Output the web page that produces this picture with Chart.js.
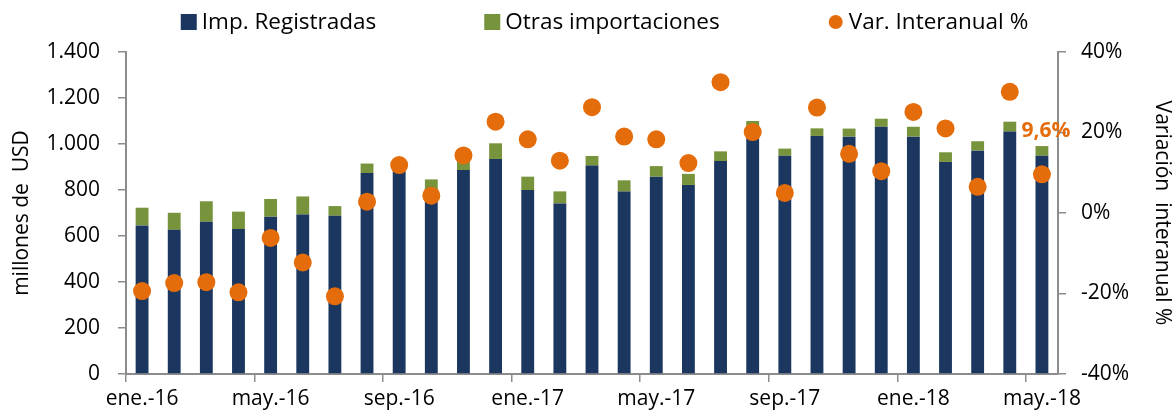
<!DOCTYPE html>
<html>
<head>
<meta charset="utf-8">
<script src="https://cdn.jsdelivr.net/npm/chart.js@4.4.1/dist/chart.umd.min.js"></script>
<style>
  html, body { margin: 0; padding: 0; background: #ffffff; }
  #wrap { width: 1175px; height: 416px; position: relative; }
</style>
</head>
<body>
<div id="wrap"><canvas id="c"></canvas></div>
<script>
// ---- data ----
const months = ['ene.-16','feb.-16','mar.-16','abr.-16','may.-16','jun.-16','jul.-16','ago.-16','sep.-16','oct.-16','nov.-16','dic.-16',
                'ene.-17','feb.-17','mar.-17','abr.-17','may.-17','jun.-17','jul.-17','ago.-17','sep.-17','oct.-17','nov.-17','dic.-17',
                'ene.-18','feb.-18','mar.-18','abr.-18','may.-18'];
const impRegistradas = [646,627,662,630,684,693,688,874,880,790,887,935,
                        800,741,906,793,858,822,926,1070,949,1035,1032,1075,
                        1032,922,971,1054,949];
const otrasImportaciones = [77,74,89,76,77,79,42,41,30,56,48,68,
                            58,53,42,49,46,48,42,30,31,33,35,35,
                            43,42,41,43,42];
const varInteranual = [-19.4,-17.4,-17.2,-19.7,-6.2,-12.3,-20.7,2.8,11.9,4.3,14.3,22.7,
                       18.3,13.0,26.3,19.0,18.3,12.4,32.5,20.1,5.0,26.2,14.7,10.4,
                       25.1,21.0,6.5,30.1,9.6];
const leftTicks = [0,200,400,600,800,1000,1200,1400];
const rightTicks = [-40,-20,0,20,40];

const seriesNames = ['Imp. Registradas','Otras importaciones','Var. Interanual %'];
const NAVY = '#1b375f', GREEN = '#77933c', ORANGE = '#e46c0a';
const AXIS = '#8c8c8c';
const FONT = '"Open Sans", Lato, sans-serif';
const FS = 21;
const LEGEND_FS = 22.5;

// legend drawn with equal gaps between items
const legendPlugin = {
  id: 'refLegend',
  afterDraw(chart) {
    const ctx = chart.ctx;
    ctx.save();
    ctx.font = LEGEND_FS + 'px ' + FONT;
    ctx.textBaseline = 'middle';
    const items = chart.data.datasets.map(ds => ({
      text: ds.label, color: ds.backgroundColor, circle: ds.type === 'line'
    }));
    const box = 16, gapText = 5, gapItem = 108;
    let total = 0;
    items.forEach((it, i) => {
      it.w = box + gapText + ctx.measureText(it.text).width;
      total += it.w + (i ? gapItem : 0);
    });
    let x = (chart.width - total) / 2 + 17;
    const y = 22;
    items.forEach(it => {
      ctx.fillStyle = it.color;
      if (it.circle) {
        ctx.beginPath();
        ctx.arc(x + box / 2, y, 7, 0, Math.PI * 2);
        ctx.fill();
      } else {
        ctx.fillRect(x, y - box / 2, box, box);
      }
      ctx.fillStyle = '#000';
      ctx.fillText(it.text, x + box + gapText, y + 1);
      x += it.w + gapItem;
    });
    ctx.restore();
  }
};

// value label for the last point
const lastLabelPlugin = {
  id: 'lastLabel',
  afterDatasetsDraw(chart) {
    const idx = chart.data.datasets.findIndex(d => d.type === 'line');
    const meta = chart.getDatasetMeta(idx);
    const n = meta.data.length - 1;
    const pt = meta.data[n];
    const v = chart.data.datasets[idx].data[n];
    const ctx = chart.ctx;
    ctx.save();
    ctx.font = 'bold ' + FS + 'px ' + FONT;
    ctx.fillStyle = ORANGE;
    ctx.textAlign = 'center';
    ctx.textBaseline = 'middle';
    ctx.fillText(v.toFixed(1).replace('.', ',') + '%', pt.x + 4, pt.y - 43);
    ctx.restore();
  }
};

Chart.defaults.font.family = FONT;
Chart.defaults.font.size = FS;
Chart.defaults.color = '#000';

new Chart(document.getElementById('c'), {
  data: {
    labels: months,
    datasets: [
      { type: 'bar', label: seriesNames[0], data: impRegistradas, yAxisID: 'y',
        backgroundColor: NAVY, barPercentage: 0.4, categoryPercentage: 1, stack: 's', order: 1 },
      { type: 'bar', label: seriesNames[1], data: otrasImportaciones, yAxisID: 'y',
        backgroundColor: GREEN, barPercentage: 0.4, categoryPercentage: 1, stack: 's', order: 1 },
      { type: 'line', label: seriesNames[2], data: varInteranual, yAxisID: 'y2',
        showLine: false, pointRadius: 9, pointHoverRadius: 9,
        backgroundColor: ORANGE, borderColor: ORANGE, pointBorderWidth: 0, order: 0 }
    ]
  },
  options: {
    responsive: true,
    maintainAspectRatio: false,
    animation: false,
    layout: { padding: { top: 52, left: 0, right: 0, bottom: 0 } },
    plugins: { legend: { display: false }, tooltip: { enabled: false } },
    scales: {
      x: {
        stacked: true,
        offset: true,
        grid: {
          offset: true,
          drawOnChartArea: false,
          drawTicks: true,
          tickLength: 8,
          lineWidth: 1.5,
          color: c => (c.index % 4 === 0 ? AXIS : 'rgba(0,0,0,0)'),
          tickColor: c => (c.index % 4 === 0 ? AXIS : 'rgba(0,0,0,0)')
        },
        border: { color: AXIS, width: 2 },
        ticks: {
          autoSkip: false, maxRotation: 0, minRotation: 0, padding: 4,
          callback: function(v, i) { return i % 4 === 0 ? months[i] : ''; }
        },
        afterFit: s => { s.height = 42; }
      },
      y: {
        position: 'left',
        stacked: true,
        min: leftTicks[0], max: leftTicks[leftTicks.length - 1],
        afterBuildTicks: s => { s.ticks = leftTicks.map(v => ({ value: v })); },
        grid: { drawOnChartArea: false, drawTicks: true, tickLength: 8, tickColor: AXIS, lineWidth: 1.5 },
        border: { color: AXIS, width: 2 },
        ticks: { padding: 18, callback: v => String(v).replace(/^(\d)(\d{3})$/, '$1.$2') },
        title: { display: true, text: 'millones de  USD', padding: { top: 9, bottom: 0 } },
        afterFit: s => { s.width = 126; }
      },
      y2: {
        position: 'right',
        min: rightTicks[0], max: rightTicks[rightTicks.length - 1],
        afterBuildTicks: s => { s.ticks = rightTicks.map(v => ({ value: v })); },
        grid: { drawOnChartArea: false, drawTicks: true, tickLength: 8, tickColor: AXIS, lineWidth: 1.5 },
        border: { color: AXIS, width: 2 },
        ticks: { padding: 15, callback: v => v + '%' },
        title: { display: true, text: 'Variación  interanual %', padding: { top: 0, bottom: 0 } },
        afterFit: s => { s.width = 117; }
      }
    }
  },
  plugins: [legendPlugin, lastLabelPlugin]
});
</script>
</body>
</html>
